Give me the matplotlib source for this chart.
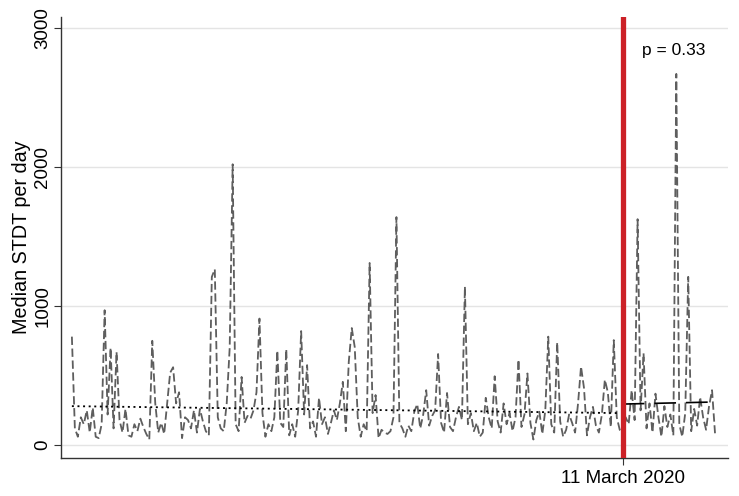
import matplotlib
matplotlib.use("Agg")
import numpy as np
import matplotlib.pyplot as plt

plt.rcParams["font.family"] = ["Liberation Sans", "DejaVu Sans"]

# days relative to 11 March 2020, one reading every 3 days
step = 3
pre_start = -555
post_start = 0

pre_values = [
    780, 120, 60, 200, 150, 250, 90, 270, 60, 50,
    150, 970, 220, 700, 120, 670, 180, 90, 260, 70,
    60, 150, 100, 190, 130, 80, 40, 750, 300, 90,
    160, 80, 300, 520, 560, 300, 380, 50, 200, 180,
    120, 250, 90, 260, 170, 100, 70, 1210, 1265, 200,
    120, 100, 300, 700, 2020, 150, 100, 490, 160, 210,
    190, 250, 380, 910, 230, 60, 150, 100, 200, 680,
    160, 130, 690, 70, 150, 60, 250, 820, 220, 575,
    120, 170, 60, 340, 150, 200, 80, 160, 250, 180,
    300, 455, 100, 600, 842, 705, 200, 60, 150, 100,
    1310, 230, 360, 50, 110, 90, 80, 100, 200, 1640,
    160, 120, 60, 140, 100, 240, 295, 120, 220, 395,
    140, 210, 250, 655, 160, 90, 375, 130, 100, 200,
    275, 180, 1140, 150, 230, 100, 160, 60, 90, 340,
    200, 120, 495, 170, 90, 300, 150, 230, 100, 200,
    615, 130, 220, 515, 160, 40, 180, 240, 80, 250,
    780, 150, 90, 740, 170, 60, 110, 220, 160, 90,
    300, 565, 410, 70, 200, 275, 140, 90, 220, 470,
    380, 130, 755, 200, 110,
]
post_values = [
    90, 200, 150, 395, 180, 1625, 250, 660, 120, 300,
    90, 370, 200, 60, 280, 130, 220, 70, 2670, 150,
    60, 230, 1210, 100, 260, 140, 345, 200, 110, 280,
    395, 85,
]

pre_trend = [280, 230]
post_trend = [295, 310]
p_text = "p = 0.33"
event_label = "11 March 2020"

pre_days = pre_start + step * np.arange(len(pre_values))
post_days = post_start + step * np.arange(len(post_values))
days = np.concatenate([pre_days, post_days])
values = pre_values + post_values

fig = plt.figure(figsize=(7.39, 4.96), dpi=100)
ax = fig.add_axes([0.0825, 0.0766, 0.9025, 0.889])

for yv in [0, 1000, 2000, 3000]:
    ax.axhline(yv, color="#e4e4e4", lw=1.0, zorder=0)

ax.plot(days, values, color="#5e5e5e", lw=1.3, linestyle=(0, (4.6, 2.0)), zorder=2)
ax.plot([pre_days[0], pre_days[-1]], pre_trend, color="black", lw=1.3,
        linestyle=(0, (1.1, 2.0)), zorder=3)
ax.plot([post_days[0], post_days[-1]], post_trend, color="black", lw=1.2,
        linestyle=(0, (13, 6)), zorder=3)
ax.axvline(0, color="#cc2127", lw=3.8, zorder=4)

ax.text(19, 2840, p_text, fontsize=12.5, va="center", ha="left")

ax.set_xlim(-566, 106)
ax.set_ylim(-93, 3079)
ax.set_yticks([0, 1000, 2000, 3000])
ax.set_xticks([0])
ax.set_xticklabels([event_label])
ax.tick_params(axis="both", labelsize=13.5, length=5, color="#333333")
ax.tick_params(axis="y", pad=2)
plt.setp(ax.get_yticklabels(), rotation=90, va="center")
ax.set_ylabel("Median STDT per day", fontsize=14.2, labelpad=2)

for s in ["top", "right"]:
    ax.spines[s].set_visible(False)
for s in ["left", "bottom"]:
    ax.spines[s].set_color("#333333")
    ax.spines[s].set_linewidth(1.0)

fig.savefig("out.png", dpi=100)
